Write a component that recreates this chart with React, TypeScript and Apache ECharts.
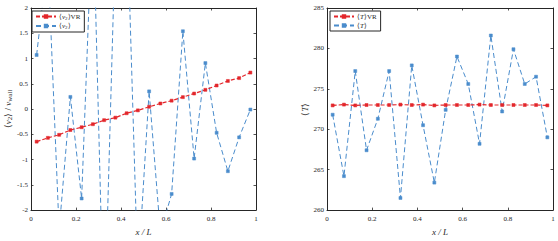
import React, { useEffect, useRef } from "react";
import * as echarts from "echarts";

const xPos = [0.025, 0.075, 0.125, 0.175, 0.225, 0.275, 0.325, 0.375, 0.425, 0.475, 0.525, 0.575, 0.625, 0.675, 0.725, 0.775, 0.825, 0.875, 0.925, 0.975];
const v2VR = [-0.645, -0.57, -0.51, -0.415, -0.36, -0.3, -0.22, -0.17, -0.083, -0.026, 0.045, 0.11, 0.166, 0.236, 0.307, 0.38, 0.466, 0.556, 0.613, 0.722];
const v2 = [1.07, 3.0, -2.4, 0.24, -1.77, 4.1, -4.5, 3.4, 4.1, -3.3, 0.35, -2.45, -1.68, 1.54, -0.98, 0.91, -0.47, -1.23, -0.56, -0.01];
const TVR = [272.95, 273.05, 272.95, 273.0, 273.0, 273.0, 273.05, 273.0, 273.05, 272.95, 273.0, 273.0, 273.0, 273.05, 273.0, 273.0, 273.0, 273.0, 273.0, 272.95];
const T = [271.8, 264.2, 277.2, 267.4, 271.3, 277.2, 261.5, 277.9, 270.5, 263.4, 272.4, 279.0, 275.6, 268.2, 281.6, 272.2, 279.9, 275.6, 276.5, 269.0];

const names = { v2VR: "⟨v2⟩VR", v2: "⟨v2⟩", TVR: "⟨T⟩VR", T: "⟨T⟩" };
const legendRich: Record<string, string> = {
  [names.v2VR]: "⟨{i|v}{s|2}⟩VR",
  [names.v2]: "⟨{i|v}{s|2}⟩",
  [names.TVR]: "⟨{i|T}⟩VR",
  [names.T]: "⟨{i|T}⟩",
};

const RED = "#e3262b";
const BLUE = "#4a8ccc";
const AX = "#262626";
const FONT = "Liberation Serif";

function pairs(ys: number[]) {
  return xPos.map((x, i) => [x, ys[i]]);
}

export default function App() {
  const ref = useRef<HTMLDivElement>(null);
  useEffect(() => {
    const chart = echarts.init(ref.current!, null, { renderer: "svg" });
    const tickLabel = { fontFamily: FONT, fontSize: 7, color: AX };
    const mkX = (grid: number, pos: "bottom" | "top", labels: boolean) => ({
      type: "value",
      gridIndex: grid,
      position: pos,
      min: 0,
      max: 1,
      interval: 0.2,
      axisLine: { show: true, onZero: false, lineStyle: { color: AX, width: 1 } },
      axisTick: { show: true, inside: true, length: 2.5, lineStyle: { color: AX, width: 0.8 } },
      axisLabel: { show: labels, margin: 5, ...tickLabel },
      splitLine: { show: false },
      name: labels ? "x / L" : "",
      nameLocation: "middle",
      nameGap: 14,
      nameTextStyle: { fontFamily: FONT, fontSize: 9, fontStyle: "italic", color: AX },
    });
    const mkY = (grid: number, pos: "left" | "right", labels: boolean, min: number, max: number, interval: number, name: any, nameGap: number) => ({
      type: "value",
      gridIndex: grid,
      position: pos,
      min,
      max,
      interval,
      axisLine: { show: true, onZero: false, lineStyle: { color: AX, width: 1 } },
      axisTick: { show: true, inside: true, length: 2.5, lineStyle: { color: AX, width: 0.8 } },
      axisLabel: { show: labels, margin: 3, ...tickLabel },
      splitLine: { show: false },
      name: labels ? name : "",
      nameLocation: "middle",
      nameGap,
      nameRotate: 90,
      nameTextStyle: {
        fontFamily: FONT,
        fontSize: 9,
        color: AX,
        rich: {
          i: { fontFamily: FONT, fontSize: 9, fontStyle: "italic", color: AX },
          s: { fontFamily: FONT, fontSize: 7, color: AX, verticalAlign: "bottom", padding: [4, 0, 0, 0] },
        },
      },
    });
    const lineSeries = (name: string, x: number, y: number, data: number[], color: string, dash: number[], width: number) => ({
      type: "line",
      name,
      xAxisIndex: x,
      yAxisIndex: y,
      data: pairs(data),
      symbol: "rect",
      symbolSize: 3,
      showSymbol: true,
      clip: true,
      itemStyle: { color, borderColor: color, borderWidth: 0.5 },
      lineStyle: { color, width, type: dash },
      z: color === RED ? 3 : 2,
    });
    const legend = (left: number, data: string[]) => ({
      left,
      top: 11,
      orient: "vertical",
      data,
      backgroundColor: "#ffffff",
      borderColor: AX,
      borderWidth: 1,
      borderRadius: 0,
      padding: [2, 4, 2, 3],
      itemGap: 2,
      itemWidth: 20,
      itemHeight: 3,
      formatter: (n: string) => legendRich[n] || n,
      textStyle: {
        fontFamily: FONT,
        fontSize: 7,
        color: AX,
        padding: [0, 0, 0, -2],
        rich: {
          i: { fontFamily: FONT, fontSize: 7, fontStyle: "italic", color: AX },
          s: { fontFamily: FONT, fontSize: 5, color: AX, verticalAlign: "bottom", padding: [3, 0, 0, 0] },
        },
      },
    });
    chart.setOption({
      animation: false,
      backgroundColor: "#ffffff",
      grid: [
        { left: 31, right: 302, top: 8, bottom: 23, show: false },
        { left: 327, right: 5, top: 8, bottom: 23, show: false },
      ],
      xAxis: [mkX(0, "bottom", true), mkX(0, "top", false), mkX(1, "bottom", true), mkX(1, "top", false)],
      yAxis: [
        mkY(0, "left", true, -2, 2, 0.5, "⟨{i|v}{s|2}⟩ / {i|v}{s|wall}", 17),
        mkY(0, "right", false, -2, 2, 0.5, "", 0),
        mkY(1, "left", true, 260, 285, 5, "⟨{i|T}⟩", 16),
        mkY(1, "right", false, 260, 285, 5, "", 0),
      ],
      legend: [legend(32, [names.v2VR, names.v2]), legend(330, [names.TVR, names.T])],
      series: [
        lineSeries(names.v2, 0, 0, v2, BLUE, [5, 3], 1),
        lineSeries(names.v2VR, 0, 0, v2VR, RED, [4, 2], 1.2),
        lineSeries(names.T, 2, 2, T, BLUE, [5, 3], 1),
        lineSeries(names.TVR, 2, 2, TVR, RED, [4, 2], 1.2),
      ],
    });
    return () => chart.dispose();
  }, []);
  return <div ref={ref} style={{ position: "fixed", left: 0, top: 0, width: 558, height: 241 }} />;
}
